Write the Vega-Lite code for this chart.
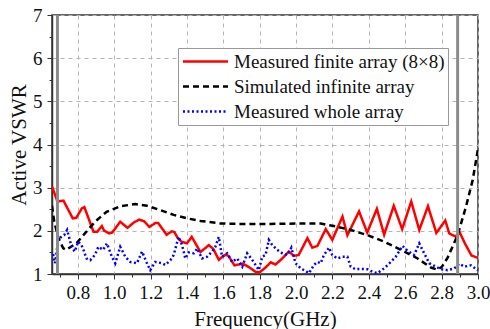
{
  "$schema": "https://vega.github.io/schema/vega-lite/v6.json",
  "width": 426,
  "height": 259,
  "autosize": "none",
  "padding": {"left": 52, "top": 15, "right": 12, "bottom": 55},
  "background": "white",
  "config": {
    "view": {"stroke": "#333", "strokeWidth": 1.5},
    "font": "Liberation Serif",
    "axis": {
      "labelFont": "Liberation Serif",
      "titleFont": "Liberation Serif",
      "labelFontSize": 19,
      "titleFontSize": 21,
      "titleFontWeight": "normal",
      "labelColor": "#111",
      "titleColor": "#111",
      "domainColor": "#333",
      "domainWidth": 1.5,
      "tickColor": "#333",
      "gridColor": "#b4b4b4",
      "gridDash": [4, 4],
      "gridWidth": 1
    }
  },
  "encoding": {
    "x": {
      "field": "f", "type": "quantitative",
      "scale": {"domain": [0.658, 3.0], "nice": false, "zero": false},
      "axis": {
        "title": "Frequency(GHz)",
        "labelFont": "Liberation Serif",
        "titleFont": "Liberation Serif",
        "labelFontSize": 19,
        "titleFontSize": 21,
        "values": [0.7,0.8,0.9,1.0,1.1,1.2,1.3,1.4,1.5,1.6,1.7,1.8,1.9,2.0,2.1,2.2,2.3,2.4,2.5,2.6,2.7,2.8,2.9,3.0],
        "labelExpr": "round(datum.value*10)%2==0 ? format(datum.value, '.1f') : ''",
        "labelOverlap": false,
        "gridOpacity": {"condition": {"test": "round(datum.value*10)%2==0", "value": 1}, "value": 0},
        "tickSize": {"condition": {"test": "round(datum.value*10)%2==0", "value": 5}, "value": 3},
        "labelPadding": 4,
        "titlePadding": 6,
        "labelFlush": false
      }
    }
  },
  "layer": [
    {
      "data": {"values": [
        {"f":0.658,"v":3.03,"s":"Measured finite array (8×8)"},
        {"f":0.688,"v":2.68,"s":"Measured finite array (8×8)"},
        {"f":0.721,"v":2.70,"s":"Measured finite array (8×8)"},
        {"f":0.772,"v":2.29,"s":"Measured finite array (8×8)"},
        {"f":0.791,"v":2.30,"s":"Measured finite array (8×8)"},
        {"f":0.822,"v":2.52,"s":"Measured finite array (8×8)"},
        {"f":0.836,"v":2.55,"s":"Measured finite array (8×8)"},
        {"f":0.886,"v":1.98,"s":"Measured finite array (8×8)"},
        {"f":0.907,"v":1.98,"s":"Measured finite array (8×8)"},
        {"f":0.932,"v":2.11,"s":"Measured finite array (8×8)"},
        {"f":0.945,"v":2.00,"s":"Measured finite array (8×8)"},
        {"f":0.974,"v":1.94,"s":"Measured finite array (8×8)"},
        {"f":0.989,"v":1.96,"s":"Measured finite array (8×8)"},
        {"f":1.033,"v":2.21,"s":"Measured finite array (8×8)"},
        {"f":1.073,"v":2.07,"s":"Measured finite array (8×8)"},
        {"f":1.110,"v":2.20,"s":"Measured finite array (8×8)"},
        {"f":1.138,"v":2.26,"s":"Measured finite array (8×8)"},
        {"f":1.165,"v":2.22,"s":"Measured finite array (8×8)"},
        {"f":1.193,"v":2.09,"s":"Measured finite array (8×8)"},
        {"f":1.226,"v":2.18,"s":"Measured finite array (8×8)"},
        {"f":1.242,"v":2.18,"s":"Measured finite array (8×8)"},
        {"f":1.288,"v":1.91,"s":"Measured finite array (8×8)"},
        {"f":1.317,"v":1.99,"s":"Measured finite array (8×8)"},
        {"f":1.331,"v":1.97,"s":"Measured finite array (8×8)"},
        {"f":1.347,"v":1.85,"s":"Measured finite array (8×8)"},
        {"f":1.369,"v":1.75,"s":"Measured finite array (8×8)"},
        {"f":1.400,"v":1.71,"s":"Measured finite array (8×8)"},
        {"f":1.426,"v":1.86,"s":"Measured finite array (8×8)"},
        {"f":1.474,"v":1.51,"s":"Measured finite array (8×8)"},
        {"f":1.501,"v":1.60,"s":"Measured finite array (8×8)"},
        {"f":1.520,"v":1.67,"s":"Measured finite array (8×8)"},
        {"f":1.545,"v":1.58,"s":"Measured finite array (8×8)"},
        {"f":1.575,"v":1.33,"s":"Measured finite array (8×8)"},
        {"f":1.612,"v":1.45,"s":"Measured finite array (8×8)"},
        {"f":1.628,"v":1.42,"s":"Measured finite array (8×8)"},
        {"f":1.661,"v":1.20,"s":"Measured finite array (8×8)"},
        {"f":1.707,"v":1.24,"s":"Measured finite array (8×8)"},
        {"f":1.744,"v":1.15,"s":"Measured finite array (8×8)"},
        {"f":1.777,"v":1.05,"s":"Measured finite array (8×8)"},
        {"f":1.800,"v":1.04,"s":"Measured finite array (8×8)"},
        {"f":1.832,"v":1.15,"s":"Measured finite array (8×8)"},
        {"f":1.860,"v":1.27,"s":"Measured finite array (8×8)"},
        {"f":1.887,"v":1.22,"s":"Measured finite array (8×8)"},
        {"f":1.924,"v":1.36,"s":"Measured finite array (8×8)"},
        {"f":1.960,"v":1.52,"s":"Measured finite array (8×8)"},
        {"f":1.988,"v":1.42,"s":"Measured finite array (8×8)"},
        {"f":2.014,"v":1.44,"s":"Measured finite array (8×8)"},
        {"f":2.062,"v":1.83,"s":"Measured finite array (8×8)"},
        {"f":2.089,"v":1.61,"s":"Measured finite array (8×8)"},
        {"f":2.117,"v":1.65,"s":"Measured finite array (8×8)"},
        {"f":2.163,"v":2.04,"s":"Measured finite array (8×8)"},
        {"f":2.199,"v":1.79,"s":"Measured finite array (8×8)"},
        {"f":2.255,"v":2.33,"s":"Measured finite array (8×8)"},
        {"f":2.282,"v":1.90,"s":"Measured finite array (8×8)"},
        {"f":2.346,"v":2.45,"s":"Measured finite array (8×8)"},
        {"f":2.391,"v":1.96,"s":"Measured finite array (8×8)"},
        {"f":2.444,"v":2.51,"s":"Measured finite array (8×8)"},
        {"f":2.484,"v":1.91,"s":"Measured finite array (8×8)"},
        {"f":2.537,"v":2.58,"s":"Measured finite array (8×8)"},
        {"f":2.583,"v":2.04,"s":"Measured finite array (8×8)"},
        {"f":2.633,"v":2.68,"s":"Measured finite array (8×8)"},
        {"f":2.677,"v":2.02,"s":"Measured finite array (8×8)"},
        {"f":2.725,"v":2.57,"s":"Measured finite array (8×8)"},
        {"f":2.771,"v":1.95,"s":"Measured finite array (8×8)"},
        {"f":2.820,"v":2.24,"s":"Measured finite array (8×8)"},
        {"f":2.842,"v":1.94,"s":"Measured finite array (8×8)"},
        {"f":2.875,"v":1.87,"s":"Measured finite array (8×8)"},
        {"f":2.901,"v":1.95,"s":"Measured finite array (8×8)"},
        {"f":2.929,"v":1.70,"s":"Measured finite array (8×8)"},
        {"f":2.964,"v":1.43,"s":"Measured finite array (8×8)"},
        {"f":3.000,"v":1.37,"s":"Measured finite array (8×8)"},

        {"f":0.658,"v":2.58,"s":"Simulated infinite array"},
        {"f":0.670,"v":2.22,"s":"Simulated infinite array"},
        {"f":0.692,"v":1.85,"s":"Simulated infinite array"},
        {"f":0.719,"v":1.60,"s":"Simulated infinite array"},
        {"f":0.737,"v":1.56,"s":"Simulated infinite array"},
        {"f":0.758,"v":1.62,"s":"Simulated infinite array"},
        {"f":0.792,"v":1.71,"s":"Simulated infinite array"},
        {"f":0.839,"v":1.94,"s":"Simulated infinite array"},
        {"f":0.894,"v":2.21,"s":"Simulated infinite array"},
        {"f":0.958,"v":2.44,"s":"Simulated infinite array"},
        {"f":1.033,"v":2.57,"s":"Simulated infinite array"},
        {"f":1.116,"v":2.62,"s":"Simulated infinite array"},
        {"f":1.180,"v":2.58,"s":"Simulated infinite array"},
        {"f":1.253,"v":2.48,"s":"Simulated infinite array"},
        {"f":1.327,"v":2.37,"s":"Simulated infinite array"},
        {"f":1.400,"v":2.29,"s":"Simulated infinite array"},
        {"f":1.474,"v":2.23,"s":"Simulated infinite array"},
        {"f":1.584,"v":2.17,"s":"Simulated infinite array"},
        {"f":1.694,"v":2.16,"s":"Simulated infinite array"},
        {"f":1.860,"v":2.16,"s":"Simulated infinite array"},
        {"f":2.025,"v":2.17,"s":"Simulated infinite array"},
        {"f":2.135,"v":2.17,"s":"Simulated infinite array"},
        {"f":2.208,"v":2.11,"s":"Simulated infinite array"},
        {"f":2.300,"v":2.02,"s":"Simulated infinite array"},
        {"f":2.392,"v":1.90,"s":"Simulated infinite array"},
        {"f":2.484,"v":1.75,"s":"Simulated infinite array"},
        {"f":2.576,"v":1.56,"s":"Simulated infinite array"},
        {"f":2.668,"v":1.36,"s":"Simulated infinite array"},
        {"f":2.741,"v":1.15,"s":"Simulated infinite array"},
        {"f":2.778,"v":1.10,"s":"Simulated infinite array"},
        {"f":2.802,"v":1.17,"s":"Simulated infinite array"},
        {"f":2.833,"v":1.38,"s":"Simulated infinite array"},
        {"f":2.888,"v":1.90,"s":"Simulated infinite array"},
        {"f":2.934,"v":2.56,"s":"Simulated infinite array"},
        {"f":2.971,"v":3.18,"s":"Simulated infinite array"},
        {"f":3.000,"v":3.90,"s":"Simulated infinite array"},

        {"f":0.664,"v":1.46,"s":"Measured whole array"},
        {"f":0.675,"v":1.25,"s":"Measured whole array"},
        {"f":0.693,"v":1.82,"s":"Measured whole array"},
        {"f":0.710,"v":1.86,"s":"Measured whole array"},
        {"f":0.725,"v":1.90,"s":"Measured whole array"},
        {"f":0.741,"v":2.02,"s":"Measured whole array"},
        {"f":0.766,"v":1.63,"s":"Measured whole array"},
        {"f":0.783,"v":1.52,"s":"Measured whole array"},
        {"f":0.802,"v":1.75,"s":"Measured whole array"},
        {"f":0.820,"v":1.67,"s":"Measured whole array"},
        {"f":0.831,"v":1.56,"s":"Measured whole array"},
        {"f":0.847,"v":1.36,"s":"Measured whole array"},
        {"f":0.868,"v":1.32,"s":"Measured whole array"},
        {"f":0.894,"v":1.44,"s":"Measured whole array"},
        {"f":0.913,"v":1.63,"s":"Measured whole array"},
        {"f":0.939,"v":1.56,"s":"Measured whole array"},
        {"f":0.960,"v":1.71,"s":"Measured whole array"},
        {"f":0.987,"v":1.40,"s":"Measured whole array"},
        {"f":1.006,"v":1.25,"s":"Measured whole array"},
        {"f":1.033,"v":1.63,"s":"Measured whole array"},
        {"f":1.061,"v":1.40,"s":"Measured whole array"},
        {"f":1.088,"v":1.28,"s":"Measured whole array"},
        {"f":1.125,"v":1.25,"s":"Measured whole array"},
        {"f":1.153,"v":1.52,"s":"Measured whole array"},
        {"f":1.180,"v":1.25,"s":"Measured whole array"},
        {"f":1.198,"v":1.09,"s":"Measured whole array"},
        {"f":1.226,"v":1.28,"s":"Measured whole array"},
        {"f":1.263,"v":1.25,"s":"Measured whole array"},
        {"f":1.281,"v":1.21,"s":"Measured whole array"},
        {"f":1.309,"v":1.32,"s":"Measured whole array"},
        {"f":1.327,"v":1.44,"s":"Measured whole array"},
        {"f":1.354,"v":1.86,"s":"Measured whole array"},
        {"f":1.373,"v":1.67,"s":"Measured whole array"},
        {"f":1.391,"v":1.36,"s":"Measured whole array"},
        {"f":1.409,"v":1.50,"s":"Measured whole array"},
        {"f":1.437,"v":1.48,"s":"Measured whole array"},
        {"f":1.456,"v":1.59,"s":"Measured whole array"},
        {"f":1.483,"v":1.36,"s":"Measured whole array"},
        {"f":1.511,"v":1.40,"s":"Measured whole array"},
        {"f":1.538,"v":1.52,"s":"Measured whole array"},
        {"f":1.556,"v":1.63,"s":"Measured whole array"},
        {"f":1.575,"v":1.86,"s":"Measured whole array"},
        {"f":1.593,"v":1.40,"s":"Measured whole array"},
        {"f":1.621,"v":1.48,"s":"Measured whole array"},
        {"f":1.648,"v":1.28,"s":"Measured whole array"},
        {"f":1.676,"v":1.36,"s":"Measured whole array"},
        {"f":1.704,"v":1.17,"s":"Measured whole array"},
        {"f":1.731,"v":1.48,"s":"Measured whole array"},
        {"f":1.755,"v":1.35,"s":"Measured whole array"},
        {"f":1.777,"v":1.21,"s":"Measured whole array"},
        {"f":1.795,"v":1.09,"s":"Measured whole array"},
        {"f":1.814,"v":1.40,"s":"Measured whole array"},
        {"f":1.832,"v":1.44,"s":"Measured whole array"},
        {"f":1.850,"v":1.79,"s":"Measured whole array"},
        {"f":1.869,"v":1.67,"s":"Measured whole array"},
        {"f":1.896,"v":1.56,"s":"Measured whole array"},
        {"f":1.924,"v":1.48,"s":"Measured whole array"},
        {"f":1.952,"v":1.44,"s":"Measured whole array"},
        {"f":1.974,"v":1.61,"s":"Measured whole array"},
        {"f":1.997,"v":1.25,"s":"Measured whole array"},
        {"f":2.025,"v":1.13,"s":"Measured whole array"},
        {"f":2.052,"v":1.07,"s":"Measured whole array"},
        {"f":2.071,"v":1.02,"s":"Measured whole array"},
        {"f":2.098,"v":1.21,"s":"Measured whole array"},
        {"f":2.117,"v":1.28,"s":"Measured whole array"},
        {"f":2.135,"v":1.25,"s":"Measured whole array"},
        {"f":2.153,"v":1.44,"s":"Measured whole array"},
        {"f":2.181,"v":1.61,"s":"Measured whole array"},
        {"f":2.199,"v":1.44,"s":"Measured whole array"},
        {"f":2.227,"v":1.36,"s":"Measured whole array"},
        {"f":2.255,"v":1.40,"s":"Measured whole array"},
        {"f":2.282,"v":1.40,"s":"Measured whole array"},
        {"f":2.300,"v":1.17,"s":"Measured whole array"},
        {"f":2.326,"v":1.11,"s":"Measured whole array"},
        {"f":2.354,"v":1.12,"s":"Measured whole array"},
        {"f":2.392,"v":1.11,"s":"Measured whole array"},
        {"f":2.421,"v":1.05,"s":"Measured whole array"},
        {"f":2.447,"v":1.02,"s":"Measured whole array"},
        {"f":2.484,"v":1.13,"s":"Measured whole array"},
        {"f":2.521,"v":1.28,"s":"Measured whole array"},
        {"f":2.548,"v":1.40,"s":"Measured whole array"},
        {"f":2.585,"v":1.65,"s":"Measured whole array"},
        {"f":2.612,"v":1.54,"s":"Measured whole array"},
        {"f":2.649,"v":1.44,"s":"Measured whole array"},
        {"f":2.677,"v":1.71,"s":"Measured whole array"},
        {"f":2.704,"v":1.48,"s":"Measured whole array"},
        {"f":2.732,"v":1.25,"s":"Measured whole array"},
        {"f":2.768,"v":1.17,"s":"Measured whole array"},
        {"f":2.796,"v":1.11,"s":"Measured whole array"},
        {"f":2.833,"v":1.09,"s":"Measured whole array"},
        {"f":2.870,"v":1.13,"s":"Measured whole array"},
        {"f":2.897,"v":1.24,"s":"Measured whole array"},
        {"f":2.925,"v":1.17,"s":"Measured whole array"},
        {"f":2.961,"v":1.20,"s":"Measured whole array"},
        {"f":2.998,"v":1.09,"s":"Measured whole array"}
      ]},
      "mark": {"type": "line", "clip": true},
      "encoding": {
        "y": {
          "field": "v", "type": "quantitative",
          "scale": {"domain": [1, 7], "nice": false, "zero": false},
          "axis": {
            "title": "Active VSWR",
            "labelFont": "Liberation Serif",
            "titleFont": "Liberation Serif",
            "labelFontSize": 19,
            "titleFontSize": 21,
            "values": [1,1.5,2,2.5,3,3.5,4,4.5,5,5.5,6,6.5,7],
            "labelExpr": "datum.value%1==0 ? format(datum.value, 'd') : ''",
            "labelOverlap": false,
            "gridOpacity": {"condition": {"test": "datum.value%1==0", "value": 1}, "value": 0},
            "tickSize": {"condition": {"test": "datum.value%1==0", "value": 5}, "value": 3},
            "labelPadding": 5,
            "titlePadding": 3,
            "labelFlush": false
          }
        },
        "color": {
          "field": "s", "type": "nominal",
          "scale": {
            "domain": ["Measured finite array (8×8)", "Simulated infinite array", "Measured whole array"],
            "range": ["#ff0000", "#000000", "#0000ff"]
          },
          "legend": {
            "title": null,
            "orient": "none",
            "legendX": 126,
            "legendY": 33,
            "symbolType": "M-2.5,0H2.5",
            "symbolSize": 324,
            "symbolStrokeWidth": 2.5,
            "symbolOffset": 14,
            "labelFont": "Liberation Serif",
            "labelFontSize": 19,
            "labelColor": "#111",
            "labelOffset": 18,
            "labelLimit": 400,
            "rowPadding": 4,
            "padding": 3,
            "strokeColor": "#999",
            "fillColor": "white",
            "cornerRadius": 0
          }
        },
        "strokeDash": {
          "field": "s", "type": "nominal",
          "scale": {
            "domain": ["Measured finite array (8×8)", "Simulated infinite array", "Measured whole array"],
            "range": [[1, 0], [6, 4], [2, 2.5]]
          }
        },
        "strokeWidth": {
          "field": "s", "type": "nominal",
          "scale": {
            "domain": ["Measured finite array (8×8)", "Simulated infinite array", "Measured whole array"],
            "range": [2.5, 2.5, 2]
          },
          "legend": null
        }
      }
    },
    {
      "data": {"values": [{"f": 0.688}, {"f": 2.888}]},
      "mark": {"type": "rule", "color": "#8c8c8c", "strokeWidth": 3},
      "encoding": {}
    }
  ]
}
